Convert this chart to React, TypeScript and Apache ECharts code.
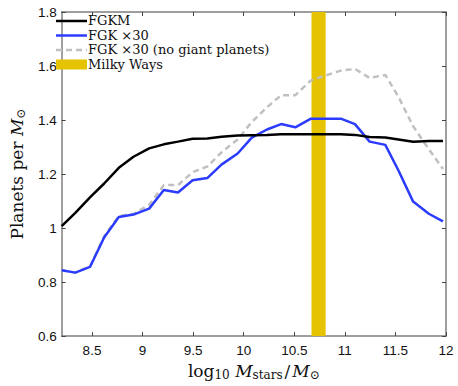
import React, { useEffect, useRef } from "react";
import * as echarts from "echarts";

const massX = [8.2, 8.335, 8.48, 8.62, 8.765, 8.91, 9.065, 9.21, 9.35, 9.495, 9.64, 9.78, 9.94, 10.08, 10.23, 10.37, 10.51, 10.665, 10.81, 10.96, 11.1, 11.245, 11.4, 11.53, 11.675, 11.83, 11.97];
const fgkm = [1.007, 1.056, 1.114, 1.165, 1.223, 1.264, 1.295, 1.31, 1.32, 1.331, 1.332, 1.338, 1.343, 1.344, 1.345, 1.347, 1.347, 1.347, 1.347, 1.347, 1.345, 1.337, 1.335, 1.328, 1.32, 1.322, 1.322];
const fgk30 = [0.844, 0.835, 0.856, 0.965, 1.041, 1.05, 1.072, 1.141, 1.132, 1.177, 1.185, 1.235, 1.276, 1.335, 1.365, 1.385, 1.373, 1.405, 1.405, 1.405, 1.385, 1.32, 1.308, 1.213, 1.098, 1.053, 1.025];
const fgk30NoGiant = [0.844, 0.835, 0.858, 0.97, 1.045, 1.053, 1.086, 1.159, 1.159, 1.207, 1.228, 1.28, 1.328, 1.393, 1.447, 1.492, 1.492, 1.547, 1.565, 1.583, 1.589, 1.556, 1.567, 1.486, 1.377, 1.292, 1.219];
const milkyWay = [10.67, 10.81];
const xTicks = [8.5, 9, 9.5, 10, 10.5, 11, 11.5, 12];
const seriesNames = ["FGKM", "FGK ×30", "FGK ×30 (no giant planets)", "Milky Ways"];
const seriesColors = ["#000000", "#2b3cff", "#c0c0c0", "#e6c300"];

const pairs = (ys: number[]) => massX.map((x, i) => [x, ys[i]]);

export default function App() {
  const ref = useRef<HTMLDivElement>(null);
  useEffect(() => {
    const chart = echarts.init(ref.current!, null, { renderer: "svg" });
    const axisLineStyle = { color: "#7f7f7f", width: 1.5 };
    const serif = "DejaVu Serif";
    const sans = "Liberation Sans";
    const legendRows = [21, 35.5, 50, 64.5];
    const legendGraphics: any[] = [];
    seriesNames.forEach((name, i) => {
      const y = legendRows[i];
      if (i < 3) {
        legendGraphics.push({
          type: "line",
          shape: { x1: 56, y1: y, x2: 87, y2: y },
          style: {
            stroke: seriesColors[i],
            lineWidth: 2.5,
            lineDash: i === 2 ? [6, 4] : null,
          },
          z: 20,
        });
      } else {
        legendGraphics.push({
          type: "rect",
          shape: { x: 56, y: y - 5, width: 31, height: 10 },
          style: { fill: seriesColors[i] },
          z: 20,
        });
      }
      legendGraphics.push({
        type: "text",
        x: 88,
        y: y - 0.5,
        style: {
          text: name,
          fontFamily: serif,
          fontSize: 13,
          fill: "#111",
          verticalAlign: "middle",
          align: "left",
        },
        z: 20,
      });
    });
    chart.setOption({
      animation: false,
      backgroundColor: "#fff",
      grid: { left: 48, right: 12, top: 12, bottom: 44 },
      graphic: legendGraphics,
      xAxis: [
        {
          type: "value",
          min: 8.2,
          max: 12,
          name: "log{sub|10} {i|M}{sub|stars}{n|/}{i|M}{sub|⊙}",
          nameLocation: "middle",
          nameGap: 20,
          nameTextStyle: {
            fontFamily: serif,
            fontSize: 17,
            color: "#111",
            rich: {
              sub: { fontFamily: serif, fontSize: 12, color: "#111", padding: [9, 0, 0, 0] },
              i: { fontFamily: serif, fontSize: 17, fontStyle: "italic", color: "#111" },
              n: { fontFamily: serif, fontSize: 17, color: "#111", padding: [0, 2, 0, 2] },
            },
          },
          axisLine: { onZero: false, lineStyle: axisLineStyle },
          axisTick: { inside: true, length: 4, customValues: xTicks, lineStyle: { color: "#444" } },
          axisLabel: { customValues: xTicks, fontFamily: sans, fontSize: 13.5, color: "#111", margin: 7 },
          splitLine: { show: false },
        },
        {
          type: "value",
          position: "top",
          min: 8.2,
          max: 12,
          axisLine: { onZero: false, lineStyle: axisLineStyle },
          axisTick: { inside: true, length: 4, customValues: xTicks, lineStyle: { color: "#444" } },
          axisLabel: { show: false },
          splitLine: { show: false },
        },
      ],
      yAxis: [
        {
          type: "value",
          min: 0.6,
          max: 1.8,
          interval: 0.2,
          name: "Planets per {i|M}{sub|⊙}",
          nameLocation: "middle",
          nameGap: 29,
          nameTextStyle: {
            fontFamily: serif,
            fontSize: 17,
            color: "#111",
            rich: {
              sub: { fontFamily: serif, fontSize: 12, color: "#111", padding: [9, 0, 0, 0] },
              i: { fontFamily: serif, fontSize: 17, fontStyle: "italic", color: "#111" },
            },
          },
          axisLine: { onZero: false, lineStyle: axisLineStyle },
          axisTick: { inside: true, length: 4, lineStyle: { color: "#444" } },
          axisLabel: { fontFamily: sans, fontSize: 13.5, color: "#111", margin: 5 },
          splitLine: { show: false },
        },
        {
          type: "value",
          position: "right",
          min: 0.6,
          max: 1.8,
          interval: 0.2,
          axisLine: { onZero: false, lineStyle: axisLineStyle },
          axisTick: { inside: true, length: 4, lineStyle: { color: "#444" } },
          axisLabel: { show: false },
          splitLine: { show: false },
        },
      ],
      series: [
        {
          name: seriesNames[0],
          type: "line",
          data: pairs(fgkm),
          symbol: "none",
          color: seriesColors[0],
          lineStyle: { color: seriesColors[0], width: 2.5 },
          z: 3,
        },
        {
          name: seriesNames[1],
          type: "line",
          data: pairs(fgk30),
          symbol: "none",
          color: seriesColors[1],
          lineStyle: { color: seriesColors[1], width: 2.5 },
          z: 2,
        },
        {
          name: seriesNames[2],
          type: "line",
          data: pairs(fgk30NoGiant),
          symbol: "none",
          color: seriesColors[2],
          lineStyle: { color: seriesColors[2], width: 2.5, type: [6, 4] },
          z: 1,
        },
        {
          name: seriesNames[3],
          type: "line",
          data: [],
          symbol: "none",
          color: seriesColors[3],
          z: 10,
          markArea: {
            silent: true,
            itemStyle: { color: seriesColors[3], opacity: 1 },
            data: [[{ xAxis: milkyWay[0] }, { xAxis: milkyWay[1] }]],
          },
        },
      ],
    });
    return () => chart.dispose();
  }, []);
  return (
    <div
      ref={ref}
      style={{ position: "absolute", left: 0, top: 0, width: 458, height: 386 }}
    />
  );
}
